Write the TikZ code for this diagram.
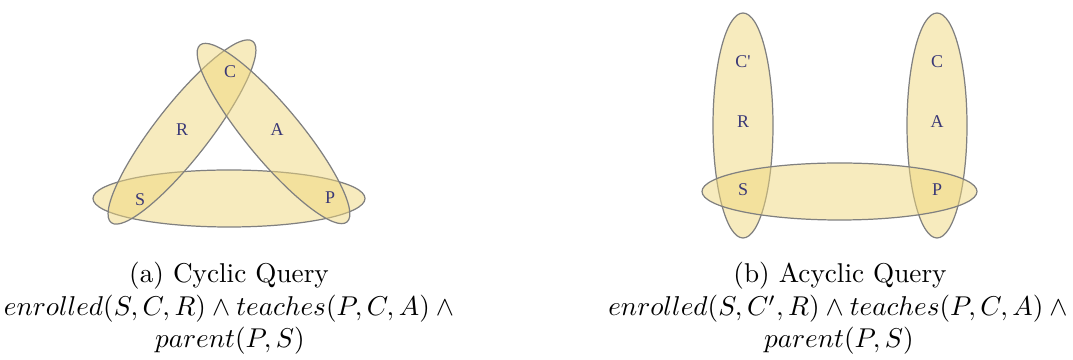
\documentclass[tikz,border=0pt]{standalone}
\usepackage{fontspec}
\newfontfamily\lblfont{Liberation Serif}
\definecolor{setfill}{RGB}{239,215,125}
\definecolor{setline}{RGB}{128,128,128}
\definecolor{lblcol}{RGB}{58,56,118}
\tikzset{
  hyper/.style={draw=setline, line width=0.45pt, fill=setfill, fill opacity=0.5},
  vlabel/.style={inner sep=0pt, text=lblcol, font=\lblfont\fontsize{6.6}{7}\selectfont},
  capline/.style={anchor=base, inner sep=0pt}
}
\begin{document}
\begin{tikzpicture}[x=0.3676pt,y=0.3676pt]
\useasboundingbox (0,0) rectangle (1073,360);
% ---------- (a) cyclic ----------
\draw[hyper] (229,161.5) ellipse[x radius=136, y radius=28.5];
\draw[hyper, rotate around={52:(182,228)}] (182,228) ellipse[x radius=115, y radius=27];
\draw[hyper, rotate around={-50.3:(273.5,226.5)}] (273.5,226.5) ellipse[x radius=115, y radius=27];
\node[vlabel] (aC) at (230,288) {C};
\node[vlabel] (aR) at (182,230) {R};
\node[vlabel] (aA) at (277,230) {A};
\node[vlabel] (aS) at (140,160) {S};
\node[vlabel] (aP) at (330,162) {P};
% ---------- (b) acyclic ----------
\draw[hyper] (743,234.5) ellipse[x radius=30, y radius=112.5];
\draw[hyper] (937,234.5) ellipse[x radius=30, y radius=112.5];
\draw[hyper] (839.5,168.5) ellipse[x radius=137.5, y radius=28.5];
\node[vlabel] (bCp) at (743,298) {C'};
\node[vlabel] (bR) at (743,238) {R};
\node[vlabel] (bS) at (743,170) {S};
\node[vlabel] (bC) at (937,298) {C};
\node[vlabel] (bA) at (937,238) {A};
\node[vlabel] (bP) at (937,170) {P};
% ---------- captions ----------
\node[capline] (capa1) at (229,77) {(a) Cyclic Query};
\node[capline] (capa2) at (232,44) {$enrolled(S,C,R)\wedge teaches(P,C,A)\wedge{}$};
\node[capline] (capa3) at (230,12) {$parent(P,S)$};
\node[capline] (capb1) at (840,77) {(b) Acyclic Query};
\node[capline] (capb2) at (841,44) {$enrolled(S,C',R)\wedge teaches(P,C,A)\wedge{}$};
\node[capline] (capb3) at (839,12) {$parent(P,S)$};
\end{tikzpicture}
\end{document}
